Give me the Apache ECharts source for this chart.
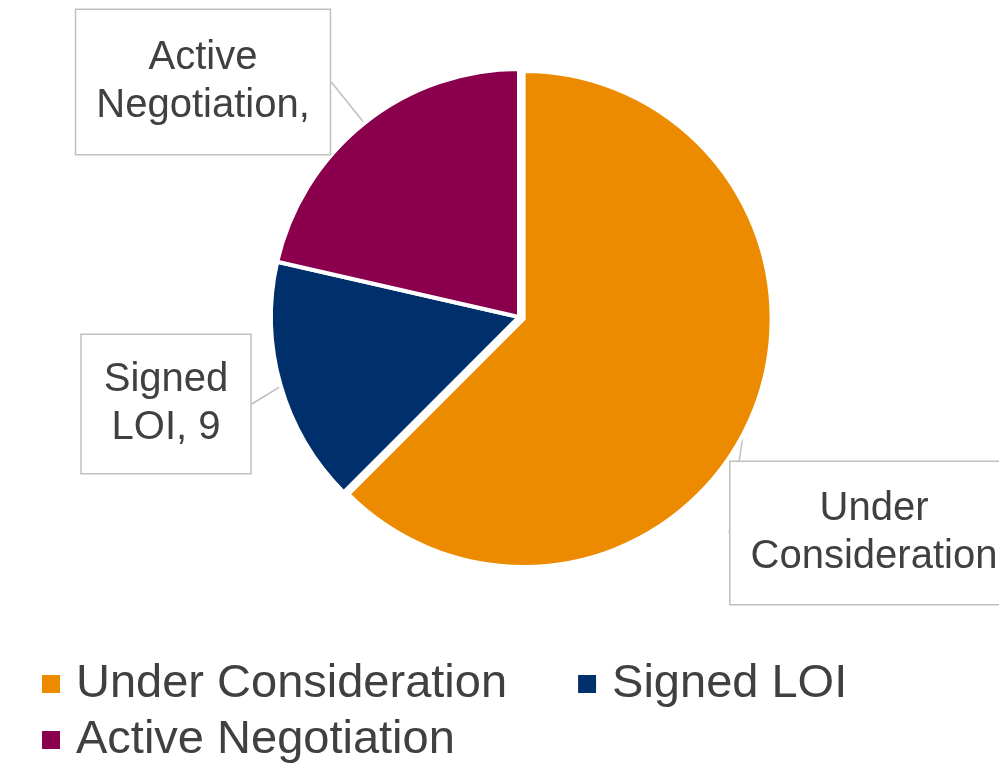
<!DOCTYPE html>
<html>
<head>
<meta charset="utf-8">
<script src="https://cdn.jsdelivr.net/npm/echarts@6/dist/echarts.min.js"></script>
<style>
  html, body { margin: 0; padding: 0; background: #fff; }
  #chart { width: 999px; height: 771px; }
</style>
</head>
<body>
<div id="chart"></div>
<script>
// data
var categories = ['Under Consideration', 'Signed LOI', 'Active Negotiation'];
var values = [35, 9, 12];
var labelTexts = ['Under\nConsideration', 'Signed\nLOI, 9', 'Active\nNegotiation,'];
var colors = ['#ED8B00', '#00306B', '#8A004C'];

// callout box centers and paddings (layout only)
var boxCenter = [[874, 533], [166, 404], [203, 82]];
var boxPad = [[23, 20], [21, 22], [24, 20]];

var font = '"Liberation Sans", Arial, sans-serif';
var pieCenter = [519, 317];
var pieRadius = 248;

var chart = echarts.init(document.getElementById('chart'));

var legendText = { fontFamily: font, fontSize: 47, color: '#404040', lineHeight: 56, padding: [0, 0, 0, 10] };

var option = {
    animation: false,
    color: colors,
    legend: [
        {
            data: [categories[0], categories[1]],
            left: 40,
            top: 656,
            padding: 0,
            itemWidth: 20,
            itemHeight: 20,
            itemGap: 69,
            icon: 'rect',
            selectedMode: false,
            textStyle: legendText
        },
        {
            data: [categories[2]],
            left: 40,
            top: 712,
            padding: 0,
            itemWidth: 20,
            itemHeight: 20,
            icon: 'rect',
            selectedMode: false,
            textStyle: legendText
        }
    ],
    series: [
        // visible slices, first one pulled out a little
        {
            type: 'pie',
            center: pieCenter,
            radius: pieRadius,
            startAngle: 90,
            clockwise: true,
            selectedMode: 'single',
            selectedOffset: 5,
            itemStyle: { borderColor: '#fff', borderWidth: 4 },
            emphasis: { disabled: true },
            label: { show: false },
            labelLine: { show: false },
            data: categories.map(function (name, i) {
                return { name: name, value: values[i], selected: i === 0 };
            })
        },
        // callout labels only
        {
            type: 'pie',
            silent: true,
            center: pieCenter,
            radius: pieRadius - 2,
            startAngle: 90,
            clockwise: true,
            avoidLabelOverlap: false,
            itemStyle: { color: 'rgba(0,0,0,0)', borderWidth: 0 },
            emphasis: { disabled: true },
            label: {
                show: true,
                position: 'outside',
                overflow: 'none',
                fontFamily: font,
                fontSize: 40,
                lineHeight: 48,
                color: '#404040',
                align: 'center',
                backgroundColor: '#fff',
                borderColor: '#bfbfbf',
                borderWidth: 1.5,
                formatter: function (p) { return labelTexts[p.dataIndex]; }
            },
            labelLine: {
                show: true,
                length: 12,
                length2: 0,
                lineStyle: { color: '#bfbfbf', width: 1.5 }
            },
            labelLayout: function (p) {
                var c = boxCenter[p.dataIndex];
                return { x: c[0], y: c[1], align: 'center', verticalAlign: 'middle' };
            },
            data: categories.map(function (name, i) {
                return {
                    name: name,
                    value: values[i],
                    label: { padding: boxPad[i] }
                };
            })
        }
    ]
};

chart.setOption(option);
</script>
</body>
</html>
